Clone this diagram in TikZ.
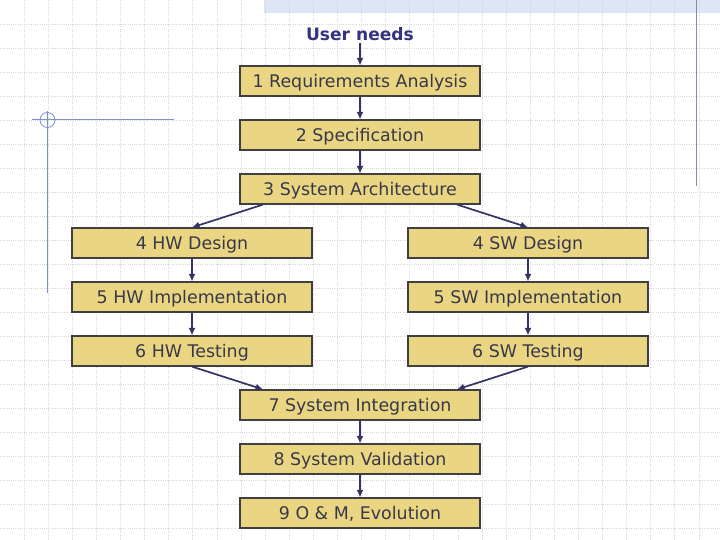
\documentclass[tikz,border=0pt]{standalone}
\usepackage{fontspec}
\setmainfont{DejaVu Sans}
\usetikzlibrary{arrows.meta}
\definecolor{boxfill}{RGB}{234,214,130}
\definecolor{boxline}{RGB}{64,64,64}
\definecolor{boxtext}{RGB}{56,56,72}
\definecolor{arrowc}{RGB}{51,51,102}
\definecolor{titlec}{RGB}{51,51,128}
\definecolor{gridc}{RGB}{214,214,214}
\definecolor{decoc}{RGB}{120,145,200}
\definecolor{rlinec}{RGB}{128,140,180}
\definecolor{bandc}{RGB}{222,229,244}
\tikzset{
  stagebox/.style={draw=boxline, fill=boxfill, line width=1.2pt, minimum width=240pt,
    minimum height=30pt, inner sep=0pt, text height=12.7pt, text depth=0pt,
    text=boxtext, font=\fontsize{17.4}{20}\selectfont},
  flow/.style={draw=arrowc, line width=1.7pt, -{Latex[length=7.5pt,width=7pt]}},
  gridline/.style={draw=gridc, line width=0.8pt, dash pattern=on 1pt off 1.2pt},
}
\begin{document}
\begin{tikzpicture}[x=1pt,y=-1pt]
\useasboundingbox (0,0) rectangle (720,540);
\fill[white] (0,0) rectangle (720,540);
% hatched band
\fill[bandc] (264,0) rectangle (720,13);
% grid
\foreach \k in {1,...,29} \draw[gridline] (24.1*\k,0) -- (24.1*\k,540);
\foreach \k in {1,...,22} \draw[gridline] (0,24*\k) -- (720,24*\k);
% decorations
\draw[decoc, line width=1pt] (32,120) -- (174,120);
\draw[decoc, line width=1pt] (47.5,111) -- (47.5,293);
\draw[decoc, line width=0.8pt] (47.5,120) circle (7.5);
\draw[rlinec, line width=1.3pt] (696.7,0) -- (696.7,186.5);
% nodes
\node[text=titlec, font=\bfseries\fontsize{17.1}{20}\selectfont, inner sep=2pt] (needs) at (360,34) {User needs};
\node[stagebox] (b1) at (360,81) {1 Requirements Analysis};
\node[stagebox] (b2) at (360,135) {2 Specification};
\node[stagebox] (b3) at (360,189) {3 System Architecture};
\node[stagebox] (hw4) at (192,243) {4 HW Design};
\node[stagebox] (sw4) at (528,243) {4 SW Design};
\node[stagebox] (hw5) at (192,297) {5 HW Implementation};
\node[stagebox] (sw5) at (528,297) {5 SW Implementation};
\node[stagebox] (hw6) at (192,351) {6 HW Testing};
\node[stagebox] (sw6) at (528,351) {6 SW Testing};
\node[stagebox] (b7) at (360,405) {7 System Integration};
\node[stagebox] (b8) at (360,459) {8 System Validation};
\node[stagebox] (b9) at (360,513) {9 O \& M, Evolution};
% connectors
\draw[flow] (needs.south) -- (b1.north);
\draw[flow] (b1.south) -- (b2.north);
\draw[flow] (b2.south) -- (b3.north);
\draw[flow] ([xshift=-97pt]b3.south) -- (hw4.north);
\draw[flow] ([xshift=97pt]b3.south) -- (sw4.north);
\draw[flow] (hw4.south) -- (hw5.north);
\draw[flow] (hw5.south) -- (hw6.north);
\draw[flow] (sw4.south) -- (sw5.north);
\draw[flow] (sw5.south) -- (sw6.north);
\draw[flow] (hw6.south) -- ([xshift=-97pt]b7.north);
\draw[flow] (sw6.south) -- ([xshift=97pt]b7.north);
\draw[flow] (b7.south) -- (b8.north);
\draw[flow] (b8.south) -- (b9.north);
\end{tikzpicture}
\end{document}
